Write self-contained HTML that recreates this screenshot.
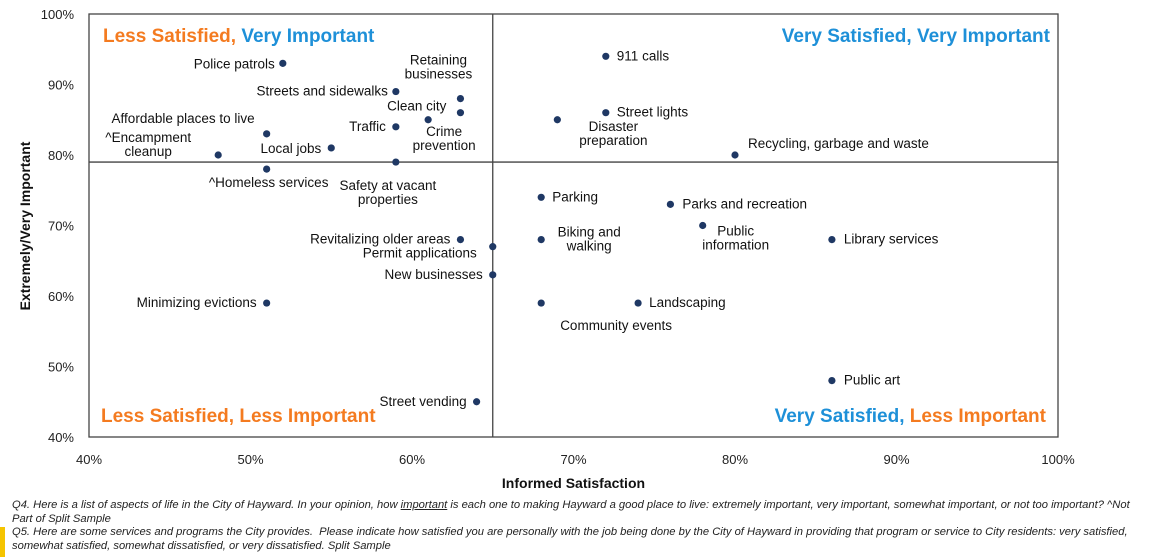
<!DOCTYPE html>
<html><head><meta charset="utf-8"><style>
body{margin:0;background:#fff;width:1162px;height:557px;overflow:hidden;font-family:"Liberation Sans",Arial,sans-serif}
svg{position:absolute;left:0;top:0}
.fn{position:absolute;left:12px;font-size:11.2px;font-style:italic;color:#222;line-height:13.5px;width:1125px}
</style></head><body>
<svg id="chart" width="1162" height="500"></svg>
<div style="position:absolute;left:0;top:527px;width:5px;height:30px;background:#f5c400"></div>
<div class="fn" style="top:499px">Q4. Here is a list of aspects of life in the City of Hayward. In your opinion, how <u>important</u> is each one to making Hayward a good place to live: extremely important, very important, somewhat important, or not too important? ^Not Part of Split Sample</div>
<div class="fn" style="top:526px">Q5. Here are some services and programs the City provides.&nbsp; Please indicate how satisfied you are personally with the job being done by the City of Hayward in providing that program or service to City residents: very satisfied, somewhat satisfied, somewhat dissatisfied, or very dissatisfied. Split Sample</div>
<script>
const names=["Police patrols","Streets and sidewalks","Retaining businesses","Clean city","Crime prevention","Traffic","Affordable places to live","Local jobs","^Encampment cleanup","^Homeless services","Safety at vacant properties","911 calls","Street lights","Disaster preparation","Recycling, garbage and waste","Parking","Parks and recreation","Public information","Library services","Biking and walking","Revitalizing older areas","Permit applications","New businesses","Minimizing evictions","Community events","Landscaping","Public art","Street vending"];
const satisfaction=[52,59,63,63,61,59,51,55,48,51,59,72,72,69,80,68,76,78,86,68,63,65,65,51,68,74,86,64];
const importance=[93,89,88,86,85,84,83,81,80,78,79,94,86,85,80,74,73,70,68,68,68,67,63,59,59,59,48,45];
const xTicks=[40,50,60,70,80,90,100];
const yTicks=[40,50,60,70,80,90,100];
const xDivider=65, yDivider=79;
// label layout: [dx,dy,anchor]
const labelLayout=[
[-8,5,"end"],[-8,4,"end"],[-22,-34,"middle"],[-14,-2,"end"],[16,16,"middle"],
[-10,4,"end"],[-12,-11,"end"],[-10,5,"end"],[-70,-13,"middle"],[2,18,"middle"],
[-8,28,"middle"],[11,4,"start"],[11,4,"start"],[56,11,"middle"],[13,-7,"start"],
[11,4,"start"],[12,4,"start"],[33,10,"middle"],[12,4,"start"],[48,-3,"middle"],
[-10,4,"end"],[-16,11,"end"],[-10,4,"end"],[-10,4,"end"],[19,27,"start"],
[11,4,"start"],[12,4,"start"],[-10,4,"end"]];
const L=89,R=1058,T=14,B=437;
const xs=v=>L+(v-40)/60*(R-L), ys=v=>B-(v-40)/60*(B-T);
const svg=document.getElementById('chart');
const NS="http://www.w3.org/2000/svg";
function mk(t,a,txt){const e=document.createElementNS(NS,t);for(const k in a)e.setAttribute(k,a[k]);if(txt!=null)e.textContent=txt;svg.appendChild(e);return e;}
let e=mk('rect',{x:L,y:T,width:R-L,height:B-T,fill:'none',stroke:'#444','stroke-width':1.3});

e=mk('line',{x1:xs(xDivider),x2:xs(xDivider),y1:T,y2:B,stroke:'#444','stroke-width':1.3});

e=mk('line',{x1:L,x2:R,y1:ys(yDivider),y2:ys(yDivider),stroke:'#444','stroke-width':1.3});

xTicks.forEach(v=>{const t=mk('text',{x:xs(v),y:B+27,'text-anchor':'middle','font-size':13,fill:'#222'},v+'%');
});
yTicks.forEach(v=>{const t=mk('text',{x:L-15,y:ys(v)+5,'text-anchor':'end','font-size':13,fill:'#222'},v+'%');
});
e=mk('text',{x:(L+R)/2,y:488,'text-anchor':'middle','font-size':14,'font-weight':'bold',fill:'#111'},'Informed Satisfaction');

e=mk('text',{x:0,y:0,transform:'translate(30,226) rotate(-90)','text-anchor':'middle','font-size':14,'font-weight':'bold',fill:'#111'},'Extremely/Very Important');

const OR='#f47b20',BL='#1e90d8';
function quad(x,y,anchor,p1,c1,p2,c2,name){const t=mk('text',{x:x,y:y,'text-anchor':anchor,'font-size':19,'font-weight':'bold'});
const a=document.createElementNS(NS,'tspan');a.setAttribute('fill',c1);a.textContent=p1;t.appendChild(a);
const b=document.createElementNS(NS,'tspan');b.setAttribute('fill',c2);b.textContent=p2;t.appendChild(b);
}
quad(103,42,'start','Less Satisfied, ',OR,'Very Important',BL,'quadrant-label-top-left');
quad(1050,42,'end','Very Satisfied, ',BL,'Very Important',BL,'quadrant-label-top-right');
quad(101,422,'start','Less Satisfied, ',OR,'Less Important',OR,'quadrant-label-bottom-left');
quad(1046,422,'end','Very Satisfied, ',BL,'Less Important',OR,'quadrant-label-bottom-right');
const twoLine={"Retaining businesses":["Retaining","businesses"],"^Encampment cleanup":["^Encampment","cleanup"],"Crime prevention":["Crime","prevention"],"Safety at vacant properties":["Safety at vacant","properties"],"Disaster preparation":["Disaster","preparation"],"Public information":["Public","information"],"Biking and walking":["Biking and","walking"]};
names.forEach((n,i)=>{const cx=xs(satisfaction[i]),cy=ys(importance[i]);
const c=mk('circle',{cx:cx,cy:cy,r:3.6,fill:'#1f3864'});


const lay=labelLayout[i];const lines=twoLine[n]||[n];
const t=mk('text',{x:cx+lay[0],y:cy+lay[1],'text-anchor':lay[2],'font-size':13.5,fill:'#111'});
lines.forEach((s,k)=>{const sp=document.createElementNS(NS,'tspan');sp.setAttribute('x',cx+lay[0]);if(k)sp.setAttribute('dy',14);sp.textContent=s;t.appendChild(sp);});

});
</script>
</body></html>
